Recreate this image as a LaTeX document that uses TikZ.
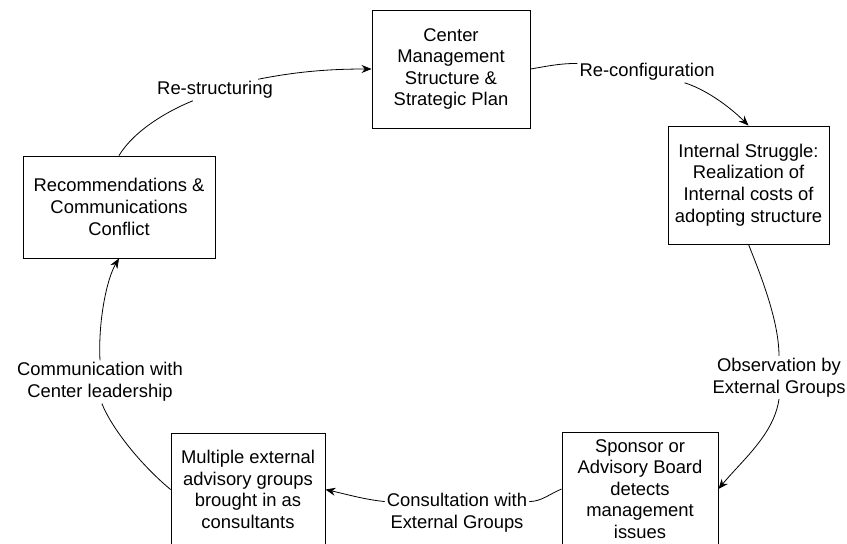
\documentclass[tikz,border=0pt]{standalone}
\usepackage{fontspec}
\setmainfont{Liberation Sans}
\usetikzlibrary{arrows.meta}
\begin{document}
\begin{tikzpicture}[x=1pt,y=-1pt,
  box/.style={draw, line width=0.9pt, align=center, inner sep=0pt, font=\fontsize{18.4}{21.6}\selectfont},
  lab/.style={align=center, inner sep=2pt, font=\fontsize{18.4}{21.6}\selectfont},
  conn/.style={line width=0.8pt},
  arr/.style={conn, -{Stealth[length=10pt,width=8pt]}}]
\useasboundingbox (0,0) rectangle (847,544);
\clip (0,0) rectangle (847,544);
\node[box, minimum width=158pt, minimum height=118pt] (T) at (451,69) {Center\\Management\\Structure \&\\Strategic Plan};
\node[box, minimum width=161pt, minimum height=118pt] (R) at (748.5,185) {Internal Struggle:\\Realization of\\Internal costs of\\adopting structure};
\node[box, minimum width=156pt, minimum height=114pt] (BR) at (640,489) {Sponsor or\\Advisory Board\\detects\\management\\issues};
\node[box, minimum width=154pt, minimum height=113pt] (BL) at (248,489.5) {Multiple external\\advisory groups\\brought in as\\consultants};
\node[box, minimum width=192pt, minimum height=102pt] (L) at (119,207) {Recommendations \&\\Communications\\Conflict};

\node[lab] (lab1) at (647,72) {Re-configuration};
\node[lab] (lab2) at (779,377.5) {Observation by\\External Groups};
\node[lab] (lab3) at (457,513) {Consultation with\\External Groups};
\node[lab] (lab4) at (100,382) {Communication with\\Center leadership};
\node[lab] (lab5) at (215,90) {Re-structuring};

\draw[conn] (T.east) .. controls +(18,-3) and +(-18,0) .. (lab1.173);
\draw[arr] (lab1.-16) .. controls +(25,8) and +(-15,-15) .. (R.north);
\draw[conn] (R.south) .. controls +(12,30) and +(0,-35) .. (lab2.north);
\draw[arr] (lab2.south) .. controls +(-5,35) and +(25,-30) .. (BR.east);
\draw[conn] (BR.west) .. controls +(-12,5) and +(12,0) .. (lab3.9);
\draw[arr] (lab3.171) .. controls +(-20,-2) and +(22,5) .. (BL.east);
\draw[conn] (BL.west) .. controls +(-30,-25) and +(10,25) .. (lab4.-85);
\draw[arr] (lab4.north) .. controls +(-2,-40) and +(-12,20) .. (L.south);
\draw[conn] (L.north) .. controls +(15,-25) and +(-25,10) .. (lab5.206);
\draw[arr] (lab5.14) .. controls +(40,-8) and +(-40,0) .. (T.west);
\end{tikzpicture}
\end{document}
